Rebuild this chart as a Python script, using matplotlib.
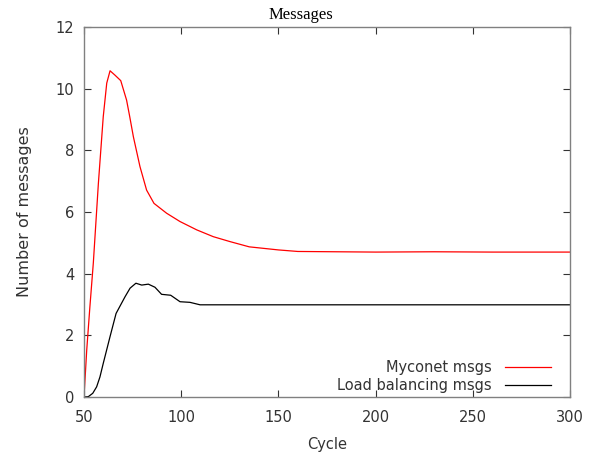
import matplotlib
matplotlib.use("Agg")
import matplotlib.pyplot as plt

# Myconet msgs
cycle_red = [50, 51.4, 53.0, 54.8, 57.4, 59.9, 61.7, 63.4, 65.9, 68.9, 71.9, 73.5, 75.4, 78.8,
             82.2, 86.0, 92.5, 99.4, 108, 116.5, 125.1, 135, 150, 160, 180, 200,
             230, 260, 300]
msgs_red = [0.0, 1.52, 2.9, 4.35, 6.93, 9.09, 10.18, 10.58, 10.44, 10.26, 9.63, 9.1, 8.44, 7.47,
            6.71, 6.28, 5.96, 5.69, 5.42, 5.2, 5.04, 4.87, 4.77, 4.72, 4.71, 4.70,
            4.71, 4.70, 4.70]

# Load balancing msgs
cycle_blk = [50, 52.2, 54.5, 56.5, 58.2, 59.9, 63.4, 66.5, 71.1, 73.7, 76.7, 79.7, 83.1, 86.5,
             89.9, 94.6, 99.4, 104.5, 109.7, 120, 150, 200, 250, 300]
msgs_blk = [0.0, 0.01, 0.12, 0.33, 0.65, 1.09, 1.96, 2.71, 3.25, 3.53, 3.69, 3.63, 3.66, 3.56,
            3.33, 3.30, 3.09, 3.07, 2.99, 2.99, 2.99, 2.99, 2.99, 2.99]

xticks = [50, 100, 150, 200, 250, 300]
yticks = [0, 2, 4, 6, 8, 10, 12]

fig = plt.figure(figsize=(5.91, 4.54), dpi=100)
ax = fig.add_axes([84/591, 1-397/454, (570-84)/591, (397-27)/454])

ax.plot(cycle_red, msgs_red, color="#ff0000", lw=0.9, label="Myconet msgs")
ax.plot(cycle_blk, msgs_blk, color="#000000", lw=0.9, label="Load balancing msgs")

ax.set_xlim(50, 300)
ax.set_ylim(0, 12)
ax.set_xticks(xticks)
ax.set_yticks(yticks)
ax.tick_params(direction="in", top=True, right=True, length=5, width=0.8,
               labelsize=10.5, colors="#333333", pad=7)
ax.tick_params(axis="x", pad=9)
for s in ax.spines.values():
    s.set_color("#808080")
    s.set_linewidth(1.0)

ax.set_xlabel("Cycle", fontsize=10.5, color="#333333", labelpad=9)
ax.set_ylabel("Number of messages", fontsize=11.5, color="#333333", labelpad=17)
fig.text(301/591, 1-15/454, "Messages", family="Liberation Serif", fontsize=12,
         ha="center", va="center")

leg = ax.legend(loc="lower right", frameon=False, markerfirst=False, fontsize=10.5,
                handlelength=3.2, handletextpad=0.9, labelspacing=0.25,
                bbox_to_anchor=(0.975, -0.008), borderaxespad=0.05)
for t in leg.get_texts():
    t.set_color("#333333")

fig.savefig("out.png", dpi=100)
